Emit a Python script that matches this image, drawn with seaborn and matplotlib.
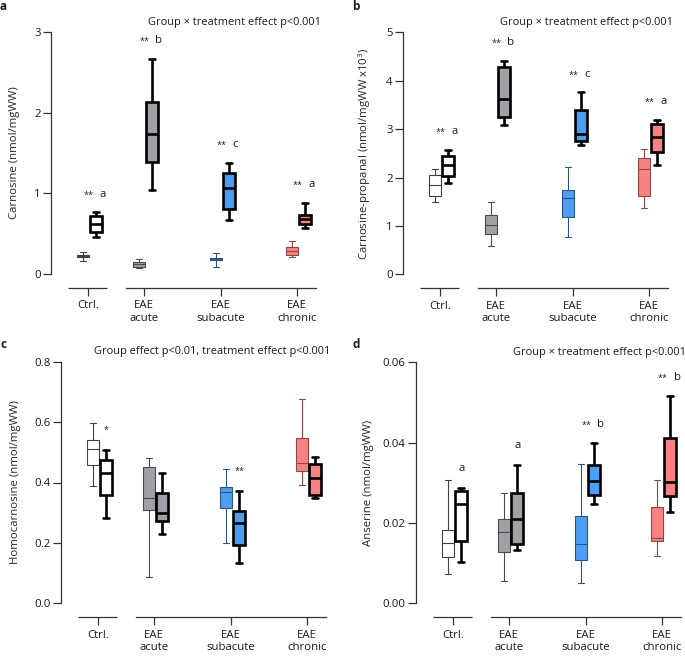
import matplotlib
matplotlib.use("Agg")
import matplotlib.pyplot as plt
import numpy as np
import pandas as pd
import seaborn as sns

# -----------------------------------
# Data: five-number summaries per box (min, Q1, median, Q3, max)
# -----------------------------------
GROUPS = ["Ctrl.", "EAE\nacute", "EAE\nsubacute", "EAE\nchronic"]
TREATMENTS = ["untreated", "treated"]

CARNOSINE_UNTREATED = [
    [0.165, 0.21, 0.225, 0.24, 0.27],
    [0.07, 0.09, 0.12, 0.15, 0.19],
    [0.09, 0.17, 0.185, 0.20, 0.26],
    [0.215, 0.23, 0.28, 0.33, 0.41],
]
CARNOSINE_TREATED = [
    [0.455, 0.52, 0.62, 0.72, 0.765],
    [1.045, 1.39, 1.74, 2.13, 2.67],
    [0.665, 0.80, 1.06, 1.255, 1.38],
    [0.575, 0.615, 0.68, 0.73, 0.885],
]

PROPANAL_UNTREATED = [
    [1.50, 1.62, 1.84, 2.06, 2.17],
    [0.59, 0.83, 1.01, 1.23, 1.50],
    [0.77, 1.18, 1.57, 1.74, 2.22],
    [1.36, 1.62, 2.18, 2.41, 2.58],
]
PROPANAL_TREATED = [
    [1.88, 2.03, 2.25, 2.44, 2.57],
    [3.08, 3.24, 3.62, 4.29, 4.41],
    [2.68, 2.76, 2.90, 3.39, 3.76],
    [2.26, 2.52, 2.84, 3.11, 3.19],
]

HOMOCARNOSINE_UNTREATED = [
    [0.389, 0.458, 0.512, 0.541, 0.596],
    [0.086, 0.309, 0.348, 0.45, 0.48],
    [0.20, 0.317, 0.367, 0.384, 0.444],
    [0.393, 0.439, 0.464, 0.548, 0.677],
]
HOMOCARNOSINE_TREATED = [
    [0.283, 0.36, 0.43, 0.476, 0.508],
    [0.229, 0.272, 0.298, 0.366, 0.431],
    [0.132, 0.193, 0.267, 0.306, 0.372],
    [0.348, 0.359, 0.416, 0.462, 0.484],
]

ANSERINE_UNTREATED = [
    [0.0073, 0.0115, 0.0151, 0.0183, 0.0307],
    [0.0056, 0.0128, 0.0178, 0.0211, 0.0274],
    [0.0050, 0.0108, 0.0148, 0.0218, 0.0347],
    [0.0118, 0.0154, 0.0162, 0.0239, 0.0307],
]
ANSERINE_TREATED = [
    [0.0102, 0.0155, 0.0248, 0.0280, 0.0287],
    [0.0133, 0.0148, 0.0210, 0.0274, 0.0344],
    [0.0248, 0.0269, 0.0304, 0.0344, 0.0400],
    [0.0228, 0.0266, 0.0303, 0.0411, 0.0516],
]

# significance marks above the treated box: (group index, stars, letter)
CARNOSINE_MARKS = [(0, "**", "a"), (1, "**", "b"), (2, "**", "c"), (3, "**", "a")]
PROPANAL_MARKS = [(0, "**", "a"), (1, "**", "b"), (2, "**", "c"), (3, "**", "a")]
HOMOCARNOSINE_MARKS = [(0, "*", ""), (2, "**", "")]
ANSERINE_MARKS = [(0, "", "a"), (1, "", "a"), (2, "**", "b"), (3, "**", "b")]

# -----------------------------------
# Plot Style
# -----------------------------------
sns.set_style("ticks")
plt.rcParams["font.family"] = ["Open Sans", "DejaVu Sans"]
plt.rcParams["mathtext.default"] = "regular"
plt.rcParams["axes.edgecolor"] = "#333333"
plt.rcParams["text.color"] = "#1a1a1a"
plt.rcParams["xtick.color"] = "#333333"
plt.rcParams["ytick.color"] = "#333333"
plt.rcParams["xtick.labelcolor"] = "#1a1a1a"
plt.rcParams["ytick.labelcolor"] = "#1a1a1a"

FILLS = ["#ffffff", "#a0a0a6", "#4d9df2", "#f88181"]
THIN_EDGES = ["#404040", "#4a4a4e", "#2c557f", "#8a4848"]

GROUP_POS = [0.0, 1.0, 2.37, 3.73]
OFFSET = {"untreated": -0.09, "treated": 0.14}
BOX_W = 0.21
XLIM = (-0.66, 4.10)
FONT = 8.2
TITLE_FONT = 7.9

W, H = 685, 656


def to_long(untreated, treated):
    rows = []
    for treat, stats in zip(TREATMENTS, (untreated, treated)):
        for group, five in zip(GROUPS, stats):
            for v in five:
                rows.append({"group": group, "treatment": treat, "value": v})
    return pd.DataFrame(rows)


def draw_panel(rect_px, df, marks, ylim, yticks, ytick_fmt, ylabel, ylabel_x,
               effect_text, letter, letter_xy):
    left, top, bottom = rect_px
    width = (XLIM[1] - XLIM[0]) * 56.1
    ax = fig.add_axes([left / W, (H - bottom) / H, width / W, (bottom - top) / H])

    for gi, group in enumerate(GROUPS):
        for treat in TREATMENTS:
            sub = df[(df["group"] == group) & (df["treatment"] == treat)]
            pos = GROUP_POS[gi] + OFFSET[treat]
            thick = treat == "treated"
            sns.boxplot(
                x=np.full(len(sub), pos),
                y=sub["value"].to_numpy(),
                orient="x",
                native_scale=True,
                width=BOX_W,
                whis=(0, 100),
                showfliers=False,
                saturation=1,
                color=FILLS[gi],
                linecolor="black" if thick else THIN_EDGES[gi],
                linewidth=1.9 if thick else 0.8,
                ax=ax,
            )

    # significance labels above the treated whisker
    for gi, stars, let in marks:
        sub = df[(df["group"] == GROUPS[gi]) & (df["treatment"] == "treated")]
        x = GROUP_POS[gi] + OFFSET["treated"]
        y = sub["value"].max()
        if stars and let:
            ax.annotate(stars, (x, y), xytext=(-1.5, 12.5), textcoords="offset points",
                        ha="right", va="center", fontsize=6.5)
            ax.annotate(let, (x, y), xytext=(2.5, 13), textcoords="offset points",
                        ha="left", va="center", fontsize=FONT)
        elif stars:
            ax.annotate(stars, (x, y), xytext=(0.5, 14), textcoords="offset points",
                        ha="center", va="center", fontsize=6.5)
        else:
            ax.annotate(let, (x, y), xytext=(0.5, 14), textcoords="offset points",
                        ha="center", va="center", fontsize=FONT)

    ax.set_xlim(XLIM)
    ax.set_ylim(ylim)
    ax.set_yticks(yticks)
    ax.set_yticklabels([ytick_fmt.format(t) for t in yticks])
    ax.set_xticks(GROUP_POS)
    ax.set_xticklabels(GROUPS)
    ax.set_xlabel("")
    ax.set_ylabel(ylabel, fontsize=FONT)
    ax.yaxis.set_label_coords(ylabel_x, 0.5)
    ax.tick_params(axis="y", length=5.5, width=0.9, pad=2, labelsize=FONT)
    ax.tick_params(axis="x", length=5.5, width=0.9, pad=3.5, labelsize=FONT)
    for lbl in ax.get_xticklabels():
        lbl.set_linespacing(1.45)

    for side in ("top", "right"):
        ax.spines[side].set_visible(False)
    ax.spines["left"].set_linewidth(0.9)
    ax.spines["bottom"].set_position(("outward", 10))
    ax.spines["bottom"].set_bounds(GROUP_POS[1] - 0.32, 4.07)
    ax.spines["bottom"].set_linewidth(0.9)
    ax.plot([GROUP_POS[0] - 0.35, GROUP_POS[0] + 0.34], [0, 0],
            transform=ax.spines["bottom"].get_spine_transform(),
            color="#333333", lw=0.9, clip_on=False, solid_capstyle="butt")

    ax.annotate(effect_text, (1.0, 1.0), xycoords="axes fraction",
                xytext=(2, 7), textcoords="offset points",
                ha="right", va="center", fontsize=TITLE_FONT)
    fig.text(letter_xy[0] / W, 1 - letter_xy[1] / H, letter,
             fontsize=8.5, fontweight="bold", ha="center", va="center")
    return ax


fig = plt.figure(figsize=(W / 100, H / 100), dpi=100)

draw_panel((51, 32, 274), to_long(CARNOSINE_UNTREATED, CARNOSINE_TREATED),
           CARNOSINE_MARKS, (0, 3), [0, 1, 2, 3], "{:g}",
           "Carnosine (nmol/mgWW)", -0.116,
           "Group \u00d7 treatment effect p<0.001", "a", (3, 7))

draw_panel((403, 32.3, 274.3), to_long(PROPANAL_UNTREATED, PROPANAL_TREATED),
           PROPANAL_MARKS, (0, 5), [0, 1, 2, 3, 4, 5], "{:g}",
           "Carnosine-propanal (nmol/mgWW x10$^{3}$)", -0.112,
           "Group \u00d7 treatment effect p<0.001", "b", (356, 6))

draw_panel((61, 361.7, 603.3), to_long(HOMOCARNOSINE_UNTREATED, HOMOCARNOSINE_TREATED),
           HOMOCARNOSINE_MARKS, (0, 0.8), [0.0, 0.2, 0.4, 0.6, 0.8], "{:.1f}",
           "Homocarnosine (nmol/mgWW)", -0.15,
           "Group effect p<0.01, treatment effect p<0.001", "c", (3, 344))

draw_panel((416, 362.3, 603.3), to_long(ANSERINE_UNTREATED, ANSERINE_TREATED),
           ANSERINE_MARKS, (0, 0.06), [0.0, 0.02, 0.04, 0.06], "{:.2f}",
           "Anserine (nmol/mgWW)", -0.157,
           "Group \u00d7 treatment effect p<0.001", "d", (356, 344))

plt.savefig("out.png", dpi=100)
plt.close()
